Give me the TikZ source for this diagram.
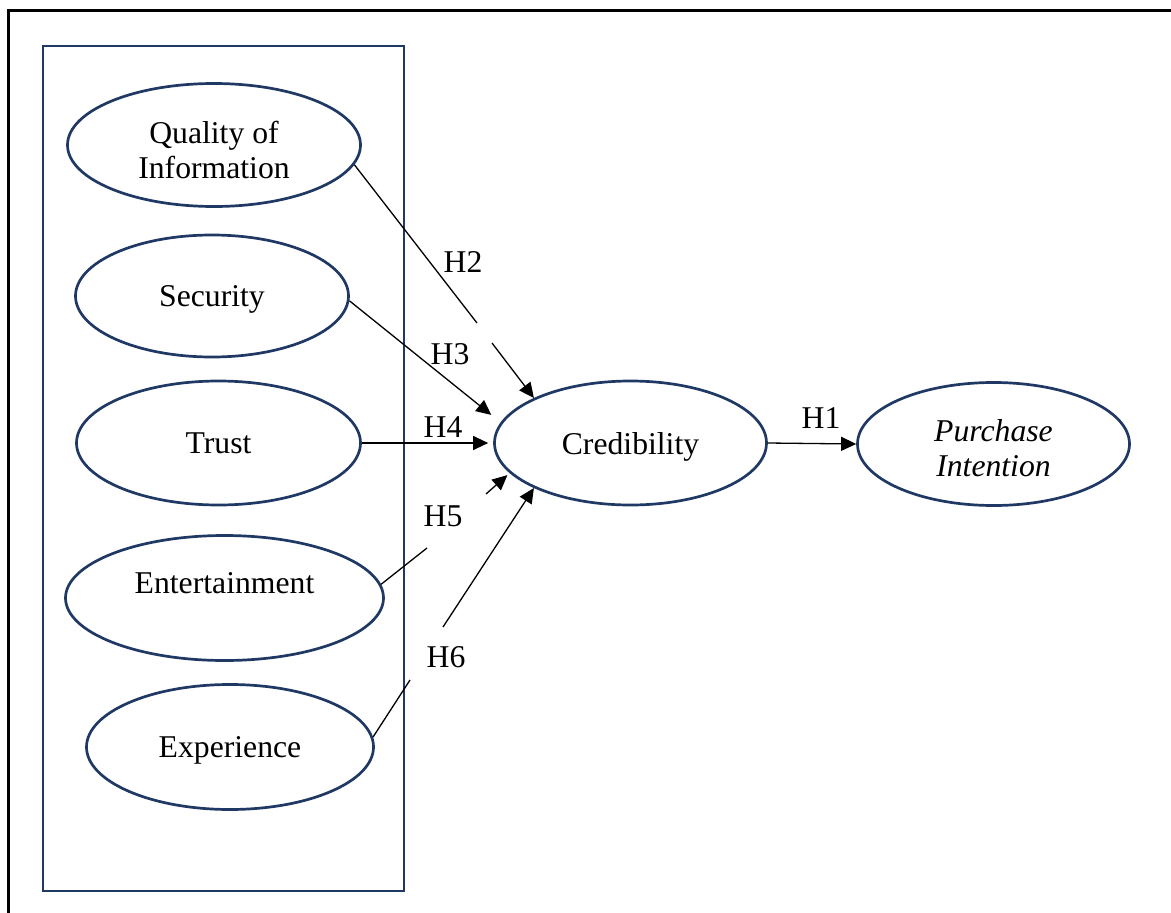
\documentclass[tikz,border=0pt]{standalone}
\usepackage{fontspec}
\setmainfont{Liberation Serif}
\usetikzlibrary{shapes.geometric,arrows.meta}
\definecolor{navy}{RGB}{32,56,100}
\begin{document}
\begin{tikzpicture}[x=1pt,y=-1pt,
  every node/.style={font=\fontsize{31.7}{35.5}\selectfont},
  oval/.style={ellipse,draw=navy,line width=2.7pt,inner sep=0pt,align=center,text depth=0pt},
  ovtext/.style={inner sep=0pt,align=center},
  conn/.style={line width=1.3pt,black},
  arr/.style={conn,-{Triangle[length=15pt,width=14pt]}},
  hlab/.style={inner sep=0pt}]
\useasboundingbox (0,0) rectangle (1171,913);
\begin{scope}
\clip (0,0) rectangle (1171,913);
\draw[line width=3pt] (8,940) -- (8,10) -- (1200,10);
\end{scope}
\draw[navy,line width=2.7pt] (43,46) rectangle (404,891);

\node[oval,minimum width=293pt,minimum height=123pt,
  label={[ovtext,yshift=-5pt]center:Quality of\\Information}] (qoi) at (214,145) {};
\node[oval,minimum width=273pt,minimum height=122pt] (sec) at (212,296) {Security};
\node[oval,minimum width=284pt,minimum height=124pt] (trust) at (218.5,443) {Trust};
\node[oval,minimum width=318pt,minimum height=125pt,
  label={[ovtext,yshift=15pt]center:Entertainment}] (ent) at (224.5,598) {};
\node[oval,minimum width=287pt,minimum height=125pt] (exp) at (230,747) {Experience};
\node[oval,minimum width=272pt,minimum height=124pt] (cred) at (630.5,443) {Credibility};
\node[oval,minimum width=272pt,minimum height=123pt,
  label={[ovtext,yshift=-4pt,font=\fontsize{31.7}{35.5}\selectfont\itshape]center:Purchase\\Intention}] (pi) at (993.5,444) {};

\coordinate (h2a) at (477,323);
\coordinate (h2b) at (492,343);
\coordinate (h5a) at (427,548);
\coordinate (h5b) at (486,494);
\coordinate (h6a) at (410,680);
\coordinate (h6b) at (443,627);

\draw[conn] (qoi.-8) -- (h2a);
\draw[arr] (h2b) -- (cred.155);
\draw[arr,shorten >=12pt] (sec.-2) -- (cred.171);
\draw[arr,shorten >=5pt] (trust.east) -- (cred.west);
\draw[conn] (ent.5) -- (h5a);
\draw[arr,shorten >=3pt] (h5b) -- (cred.-166);
\draw[conn] (exp.4) -- (h6a);
\draw[arr] (h6b) -- (cred.-155);
\draw[arr] (cred.east) -- (pi.west);

\node[hlab] (l1) at (821,418) {H1};
\node[hlab] (l2) at (463,262) {H2};
\node[hlab] (l3) at (450,354) {H3};
\node[hlab] (l4) at (443,427) {H4};
\node[hlab] (l5) at (443,516) {H5};
\node[hlab] (l6) at (446,657) {H6};
\end{tikzpicture}
\end{document}
